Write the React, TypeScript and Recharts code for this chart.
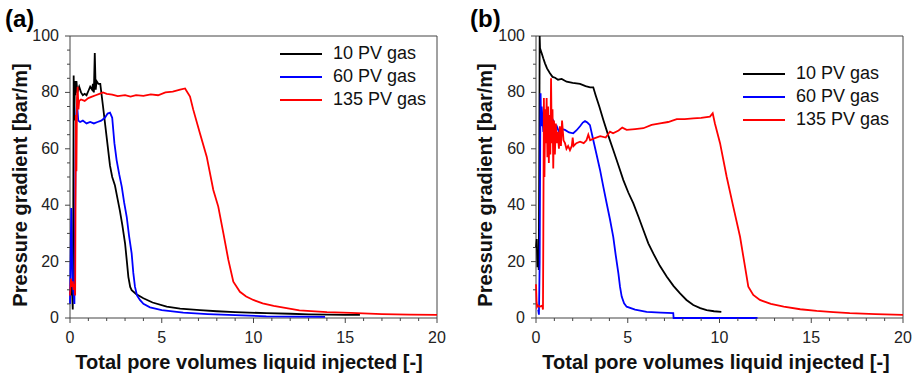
import React from 'react';
import { LineChart, Line, XAxis, YAxis, Legend, ReferenceArea, Label } from 'recharts';

type Pt = [number, number];

// x: total pore volumes liquid injected, y: pressure gradient [bar/m]
const seriesNames = ['10 PV gas', '60 PV gas', '135 PV gas'];
const seriesColors = ['#000000', '#0000ff', '#ff0000'];

const xTicks = [0, 1, 2, 3, 4, 5, 6, 7, 8, 9, 10, 11, 12, 13, 14, 15, 16, 17, 18, 19, 20];
const yTicks = [0, 5, 10, 15, 20, 25, 30, 35, 40, 45, 50, 55, 60, 65, 70, 75, 80, 85, 90, 95, 100];

// panel (a)
const a10: Pt[] = [
  [0.05, 8], [0.1, 12], [0.15, 3], [0.18, 40], [0.2, 86], [0.23, 70], [0.27, 84], [0.3, 79], [0.35, 84],
  [0.4, 80], [0.5, 82], [0.6, 80], [0.7, 79], [0.8, 79.5], [0.9, 79], [1.0, 80.5], [1.1, 82], [1.2, 81],
  [1.25, 83], [1.3, 80], [1.35, 94], [1.4, 81], [1.45, 84], [1.55, 83], [1.65, 83], [1.8, 75], [2.0, 64],
  [2.18, 54], [2.3, 50], [2.45, 47], [2.6, 42], [2.72, 38], [2.85, 33], [3.0, 26.5], [3.1, 20], [3.18, 14.6],
  [3.28, 11], [3.36, 9.9], [3.6, 8.5], [4.0, 7.0], [4.5, 5.5], [5.27, 4.0], [6.0, 3.3], [7.08, 2.8], [8, 2.4],
  [9, 2.1], [10.7, 1.7], [12, 1.5], [13, 1.3], [14, 1.2], [15, 1.1], [15.8, 1.1],
];
const a60: Pt[] = [
  [0, 5], [0.03, 20], [0.07, 39], [0.1, 25], [0.14, 12], [0.2, 8], [0.24, 5], [0.28, 40], [0.32, 70],
  [0.38, 76], [0.45, 70], [0.55, 69.5], [0.7, 70], [0.9, 69], [1.1, 69.5], [1.3, 69], [1.5, 69.5], [1.7, 70],
  [1.9, 71], [2.05, 72.5], [2.18, 72.8], [2.3, 71], [2.42, 62], [2.54, 56], [2.68, 51], [2.82, 46.6],
  [2.95, 41], [3.09, 35.9], [3.22, 29], [3.36, 22.9], [3.45, 16], [3.54, 11.1], [3.65, 8], [3.81, 6.4],
  [4.0, 5], [4.36, 3.8], [5.0, 2.8], [6.17, 1.9], [7.5, 1.4], [9, 1.0], [10.7, 0.6], [12.5, 0.5], [13.9, 0.4],
];
const a135: Pt[] = [
  [0, 8], [0.05, 14], [0.1, 11], [0.15, 13], [0.2, 10], [0.25, 12], [0.28, 8], [0.32, 72], [0.35, 52],
  [0.38, 78], [0.42, 82], [0.46, 74], [0.5, 77], [0.6, 77.5], [0.8, 77], [1.0, 78], [1.2, 78.5], [1.4, 79],
  [1.6, 79.5], [1.8, 80], [2.0, 79.5], [2.3, 79.2], [2.6, 78.7], [3.0, 79], [3.3, 78.5], [3.6, 79], [4.0, 78.8],
  [4.4, 79.3], [4.8, 79], [5.2, 80], [5.6, 80.3], [6.0, 81], [6.27, 81.4], [6.54, 78.5], [6.72, 73.8],
  [7.08, 65.5], [7.45, 57.2], [7.81, 45.4], [8.08, 39.5], [8.36, 30], [8.63, 20.6], [8.9, 12.9], [9.26, 9.3],
  [9.6, 7.6], [9.99, 6.4], [10.5, 5.2], [11.1, 4.3], [12.5, 2.7], [14, 2.1], [15.3, 1.8], [17, 1.4],
  [18.5, 1.2], [20, 1.1],
];

// panel (b)
const b10: Pt[] = [
  [0, 25], [0.04, 28], [0.08, 18], [0.12, 24], [0.15, 17], [0.18, 60], [0.2, 100], [0.22, 95.6], [0.31, 93.9],
  [0.4, 92], [0.49, 90.3], [0.6, 88.5], [0.76, 86.8], [0.9, 85.5], [1.04, 85.2], [1.2, 84.5], [1.4, 84.8],
  [1.67, 83.8], [2.0, 83.4], [2.4, 83], [2.7, 82.2], [2.95, 81.8], [3.12, 81.8], [3.25, 79], [3.45, 75],
  [3.67, 70.2], [3.95, 64.5], [4.21, 59.6], [4.5, 54], [4.76, 48.9], [5.03, 44.5], [5.3, 40.7], [5.58, 36],
  [5.85, 31.2], [6.12, 26.5], [6.39, 22.9], [6.75, 18.5], [7.12, 14.7], [7.5, 11.3], [7.85, 8.7], [8.2, 6.4],
  [8.57, 4.6], [8.95, 3.5], [9.3, 2.8], [9.7, 2.4], [10.1, 2.2],
];
const b60: Pt[] = [
  [0.12, 3], [0.16, 1.2], [0.2, 20], [0.23, 62], [0.25, 79.7], [0.28, 68], [0.31, 75], [0.36, 70], [0.4, 66],
  [0.48, 72], [0.58, 73], [0.66, 68], [0.76, 67], [0.85, 71], [0.94, 70], [1.03, 67], [1.13, 68], [1.25, 66],
  [1.4, 67], [1.58, 66.7], [1.8, 65.8], [2.03, 65.5], [2.2, 66.5], [2.4, 68], [2.55, 69.3], [2.67, 69.8],
  [2.8, 69.3], [2.94, 68.4], [3.12, 63.1], [3.3, 58], [3.49, 52.5], [3.67, 46.5], [3.85, 40.7], [4.03, 35],
  [4.21, 28.8], [4.35, 22], [4.49, 15.8], [4.58, 11], [4.67, 7.6], [4.8, 5.2], [4.94, 4.0], [5.4, 3.0],
  [6.03, 2.2], [6.8, 1.9], [7.48, 1.7], [7.5, 0], [12.07, 0],
];
const b135: Pt[] = [
  [0, 12], [0.03, 6], [0.06, 4], [0.1, 4.5], [0.2, 4], [0.3, 4.3], [0.35, 4], [0.38, 3], [0.4, 30], [0.43, 78],
  [0.46, 50], [0.5, 74], [0.54, 62], [0.58, 78], [0.62, 57], [0.66, 75], [0.7, 55], [0.74, 72], [0.78, 58],
  [0.82, 85], [0.86, 62], [0.9, 74], [0.94, 53], [0.98, 70], [1.03, 58], [1.08, 69], [1.13, 62], [1.18, 66],
  [1.25, 60], [1.3, 68], [1.36, 61], [1.42, 70], [1.5, 63], [1.58, 62], [1.66, 60], [1.75, 61], [1.85, 59.5],
  [1.95, 61], [2.0, 64], [2.05, 61], [2.2, 62], [2.4, 62.5], [2.6, 62], [2.75, 63], [2.85, 65], [2.95, 63],
  [3.1, 63.5], [3.5, 64.5], [3.8, 64], [4.03, 66.1], [4.2, 65.5], [4.5, 66.5], [4.7, 67.5], [4.94, 66.7],
  [5.4, 67], [5.85, 67.3], [6.3, 68.5], [6.76, 69], [7.2, 69.5], [7.67, 70.5], [8.1, 70.5], [8.57, 70.8],
  [9.0, 71], [9.48, 71.4], [9.63, 72.6], [9.75, 69], [10.03, 62], [10.39, 50.1], [10.75, 39.5], [11.12, 28.8],
  [11.39, 18.2], [11.57, 11.1], [11.84, 8.2], [12.2, 6.4], [12.8, 5], [13.5, 4.0], [14.4, 3.1], [15.3, 2.5],
  [16.2, 2.1], [17.1, 1.7], [18.5, 1.4], [20, 1.1],
];

const FONT = '"Liberation Sans", Arial, sans-serif';
const AXIS = '#444';
const W = 458;
const H = 377;

const toRows = (pts: Pt[]) => pts.map(([x, y]) => ({ x, y }));

const XTick = (props: any) => {
  const { x, y, payload } = props;
  const major = payload.value % 5 === 0;
  return (
    <g>
      <line x1={x} y1={y} x2={x} y2={y + (major ? 5 : 3)} stroke={AXIS} />
      {major && (
        <text x={x} y={y + 25} textAnchor="middle" fontSize={16} fontFamily={FONT} fill="#222">
          {payload.value}
        </text>
      )}
    </g>
  );
};

const YTick = (props: any) => {
  const { x, y, payload } = props;
  const major = payload.value % 20 === 0;
  return (
    <g>
      <line x1={x} y1={y} x2={x - (major ? 5 : 3)} y2={y} stroke={AXIS} />
      {major && (
        <text x={x - 11} y={y + 5} textAnchor="end" fontSize={16} fontFamily={FONT} fill="#222">
          {payload.value}
        </text>
      )}
    </g>
  );
};

// legend keeps the series order (recharts sorts its payload by name)
const LegendBox = () => (
  <div style={{ fontFamily: FONT, fontSize: 18, color: '#111' }}>
    {seriesNames.map((name, i) => (
      <div key={name} style={{ display: 'flex', alignItems: 'center', height: 23 }}>
        <svg width={42} height={4} style={{ marginRight: 11 }}>
          <line x1={0} y1={2} x2={42} y2={2} stroke={seriesColors[i]} strokeWidth={1.8} />
        </svg>
        <span style={{ whiteSpace: 'nowrap' }}>{name}</span>
      </div>
    ))}
  </div>
);

interface PanelProps {
  tag: string;
  series: Pt[][];
  yAxisWidth: number;
  rightMargin: number;
  legendLeft: number;
  legendTop: number;
  yTitleX: number;
  xTitleX: number;
}

const Panel: React.FC<PanelProps> = ({ tag, series, yAxisWidth, rightMargin, legendLeft, legendTop, yTitleX, xTitleX }) => (
  <LineChart width={W} height={H} margin={{ top: 36, right: rightMargin, bottom: 0, left: 0 }}>
    <XAxis
      dataKey="x"
      type="number"
      domain={[0, 20]}
      ticks={xTicks}
      interval={0}
      height={59}
      axisLine={false}
      tickSize={0}
      tickMargin={0}
      tickLine={false}
      tick={<XTick />}
    >
      <Label
        content={() => (
          <text x={xTitleX} y={369} textAnchor="middle" fontSize={20} fontWeight="bold" fontFamily={FONT} fill="#111">
            Total pore volumes liquid injected [-]
          </text>
        )}
      />
    </XAxis>
    <YAxis
      type="number"
      domain={[0, 100]}
      ticks={yTicks}
      interval={0}
      width={yAxisWidth}
      axisLine={false}
      tickSize={0}
      tickMargin={0}
      tickLine={false}
      tick={<YTick />}
    >
      <Label
        content={() => (
          <g>
            <text
              x={yTitleX}
              y={185}
              transform={`rotate(-90 ${yTitleX} 185)`}
              textAnchor="middle"
              dominantBaseline="central"
              fontSize={20}
              fontWeight="bold"
              fontFamily={FONT}
              fill="#111"
            >
              Pressure gradient [bar/m]
            </text>
            <text x={yTitleX - 15} y={27} fontSize={24} fontWeight="bold" fontFamily={FONT} fill="#000">
              {tag}
            </text>
          </g>
        )}
      />
    </YAxis>
    {/* plot frame, drawn below the lines so series lying on y = 0 stay visible */}
    <ReferenceArea x1={0} x2={20} y1={0} y2={100} fill="none" stroke={AXIS} strokeWidth={1} />
    {series.map((pts, i) => (
      <Line
        key={seriesNames[i]}
        data={toRows(pts)}
        dataKey="y"
        name={seriesNames[i]}
        type="linear"
        stroke={seriesColors[i]}
        strokeWidth={1.8}
        dot={false}
        activeDot={false}
        isAnimationActive={false}
      />
    ))}
    <Legend
      layout="horizontal"
      verticalAlign="middle"
      align="center"
      content={<LegendBox />}
      wrapperStyle={{ top: legendTop, left: legendLeft, width: 'auto' }}
    />
  </LineChart>
);

export default function App() {
  return (
    <div style={{ position: 'absolute', left: 0, top: 0, width: 916, height: 377, background: '#fff', display: 'flex', fontFamily: FONT }}>
      <Panel
        tag="(a)"
        series={[a10, a60, a135]}
        yAxisWidth={70}
        rightMargin={21}
        legendLeft={280}
        legendTop={42}
        yTitleX={20}
        xTitleX={249}
      />
      <Panel
        tag="(b)"
        series={[b10, b60, b135]}
        yAxisWidth={78}
        rightMargin={13}
        legendLeft={285}
        legendTop={62}
        yTitleX={27}
        xTitleX={258}
      />
    </div>
  );
}
